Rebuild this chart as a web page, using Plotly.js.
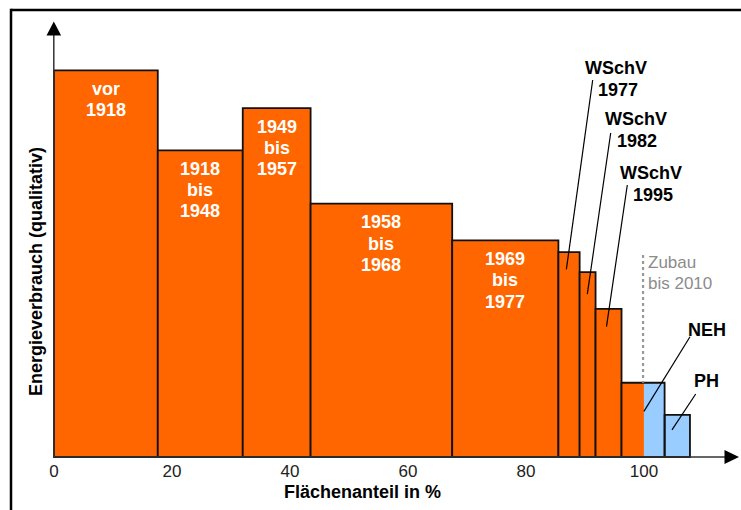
<!DOCTYPE html>
<html>
<head>
<meta charset="utf-8">
<script src="https://cdn.plot.ly/plotly-3.0.1.min.js"></script>
<style>html,body{margin:0;padding:0;background:#fff;}#chart{width:741px;height:510px;}</style>
</head>
<body>
<div id="chart"></div>
<script>
// ---------- DATA ----------
const bestandCategories = ['vor 1918', '1918 bis 1948', '1949 bis 1957', '1958 bis 1968', '1969 bis 1977', 'WSchV 1977', 'WSchV 1982', 'WSchV 1995', 'EnEV'];
const bestandShare = [17.6, 14.4, 11.5, 24.0, 18.0, 3.6, 2.7, 4.4, 3.8];      // Flächenanteil in %
const bestandEnergy = [100, 79.3, 90.2, 65.5, 56.0, 53.0, 47.8, 38.3, 19.2];  // qualitativ
const zubauCategories = ['NEH', 'PH'];
const zubauShare = [3.5, 4.3];
const zubauEnergy = [19.2, 10.9];
const xTickValues = [0, 20, 40, 60, 80, 100];
const xTitle = 'Flächenanteil in %';
const yTitle = 'Energieverbrauch (qualitativ)';
const zubauTitle = ['Zubau', 'bis 2010'];

// ---------- LAYOUT GEOMETRY ----------
const W = 741, H = 510;
const M = {l: 51, r: 0, t: 20, b: 51};
const PX_X = 5.9, PX_Y = 3.867;
const PW = W - M.l - M.r, PH_ = H - M.t - M.b;
const xr = [-0.5, -0.5 + PW / PX_X];
const yr = [-2 / PX_Y, -2 / PX_Y + PH_ / PX_Y];
const px = v => M.l + (v - xr[0]) * PX_X;          // data -> pixel
const py = v => H - M.b - (v - yr[0]) * PX_Y;
const PXp = p => (p - M.l) / PW;                  // pixel -> paper
const PYp = p => (H - M.b - p) / PH_;

const FONT = 'Arial, "Liberation Sans", sans-serif';
const ORANGE = '#FF6600', BLUE = '#99CCFF', EDGE = '#111111';

// cumulative positions
function lefts(widths, start) { const out = []; let s = start; widths.forEach(w => { out.push(s); s += w; }); return out; }
const bLeft = lefts(bestandShare, 0);
const bTotal = bestandShare.reduce((a, b) => a + b, 0);
const zLeft = lefts(zubauShare, bTotal);
const bCenter = bLeft.map((l, i) => l + bestandShare[i] / 2);
const zCenter = zLeft.map((l, i) => l + zubauShare[i] / 2);

const nB = bestandShare.length;
const lineW = bestandShare.map((_, i) => i === nB - 1 ? 0 : 1.8);

const traces = [
  {type: 'bar', x: bCenter, y: bestandEnergy, width: bestandShare, base: 0,
   marker: {color: ORANGE, line: {color: EDGE, width: lineW}}, hoverinfo: 'skip', showlegend: false},
  {type: 'bar', x: zCenter, y: zubauEnergy, width: zubauShare, base: 0,
   marker: {color: BLUE, line: {color: EDGE, width: zubauShare.map((_, i) => i === 0 ? 0 : 1.8)}}, hoverinfo: 'skip', showlegend: false},
  // outline of last Bestand bar + NEH (one joint box)
  {type: 'bar', x: [(bLeft[nB - 1] + zLeft[0] + zubauShare[0]) / 2], y: [bestandEnergy[nB - 1]],
   width: [bestandShare[nB - 1] + zubauShare[0]], base: 0,
   marker: {color: 'rgba(0,0,0,0)', line: {color: EDGE, width: 1.8}}, hoverinfo: 'skip', showlegend: false}
];

const annotations = [];
// white labels in first five bars
for (let i = 0; i < 5; i++) {
  bestandCategories[i].split(' ').forEach((t, k) => {
    annotations.push({x: bCenter[i], y: bestandEnergy[i], xref: 'x', yref: 'y', text: t, showarrow: false,
      yanchor: 'middle', xanchor: 'center', yshift: -(18.5 + k * 21.3),
      font: {family: FONT, size: 18, color: '#ffffff', weight: 'bold'}});
  });
}
// black callout labels (text centre in pixels, leader line start in pixels)
const callouts = [
  {text: bestandCategories[5], cx: 616, cy: 67.7, from: [592.7, 80], to: [bCenter[5] - 0.45, bestandEnergy[5] - 4.5]},
  {text: bestandCategories[6], cx: 635.5, cy: 119, from: [610.7, 133], to: [bCenter[6] - 0.05, bestandEnergy[6] - 5.7]},
  {text: bestandCategories[7], cx: 651, cy: 173, from: [627.3, 185], to: [bCenter[7] - 0.35, bestandEnergy[7] - 4.6]},
  {text: zubauCategories[0], cx: 707, cy: 330, from: [690, 336.7], to: [zLeft[0], zubauEnergy[0] - 7.4]},
  {text: zubauCategories[1], cx: 706.5, cy: 380.7, from: [695.7, 394], to: [zCenter[1] - 0.9, zubauEnergy[1] - 3.9]}
];
const shapes = [];
callouts.forEach(c => {
  c.text.split(' ').forEach((t, k) => {
    annotations.push({x: PXp(c.cx + (k ? 1.5 : 0)), y: PYp(c.cy + k * 22.3), xref: 'paper', yref: 'paper', text: t, showarrow: false,
      xanchor: 'center', yanchor: 'middle', font: {family: FONT, size: 18, color: '#000000', weight: 'bold'}});
  });
  shapes.push({type: 'line', xref: 'paper', yref: 'paper', x0: PXp(c.from[0]), y0: PYp(c.from[1]),
    x1: PXp(px(c.to[0])), y1: PYp(py(c.to[1])), line: {color: '#000', width: 1.2}});
});
// Zubau note
zubauTitle.forEach((t, k) => {
  annotations.push({x: PXp(646), y: PYp(262.7 + k * 20.3), xref: 'paper', yref: 'paper', text: t, showarrow: false,
    xanchor: 'left', yanchor: 'middle', font: {family: FONT, size: 17, color: '#8c8c8c'}});
});
shapes.push({type: 'line', xref: 'x', yref: 'paper', x0: bTotal - 0.15, x1: bTotal - 0.15, y0: PYp(255), y1: PYp(py(zubauEnergy[0])),
  line: {color: '#999999', width: 2.2, dash: 'dot'}});
// axis titles
annotations.push({x: PXp(362), y: PYp(491.7), xref: 'paper', yref: 'paper', text: xTitle, showarrow: false,
  xanchor: 'center', yanchor: 'middle', font: {family: FONT, size: 18, color: '#000', weight: 'bold'}});
annotations.push({x: PXp(36), y: PYp(272), xref: 'paper', yref: 'paper', text: yTitle, showarrow: false, textangle: -90,
  xanchor: 'center', yanchor: 'middle', font: {family: FONT, size: 18, color: '#000', weight: 'bold'}});

// axes with arrows
const AX = '#333333';
shapes.push({type: 'line', xref: 'paper', yref: 'paper', x0: PXp(53.8), x1: PXp(53.8), y0: PYp(457), y1: PYp(34), line: {color: AX, width: 1.5}});
shapes.push({type: 'path', xref: 'paper', yref: 'paper',
  path: `M ${PXp(53.8)},${PYp(21.5)} L ${PXp(46.5)},${PYp(35.5)} L ${PXp(61.1)},${PYp(35.5)} Z`, fillcolor: '#000', line: {width: 0}});
shapes.push({type: 'line', xref: 'paper', yref: 'paper', x0: PXp(53), x1: PXp(726), y0: PYp(457), y1: PYp(457), line: {color: AX, width: 1.5}});
shapes.push({type: 'path', xref: 'paper', yref: 'paper',
  path: `M ${PXp(739)},${PYp(457)} L ${PXp(724.5)},${PYp(450)} L ${PXp(724.5)},${PYp(464)} Z`, fillcolor: '#000', line: {width: 0}});
// frame (top and left edges visible)
shapes.push({type: 'line', xref: 'paper', yref: 'paper', x0: PXp(11), x1: PXp(760), y0: PYp(10), y1: PYp(10), line: {color: '#000', width: 2.5}});
shapes.push({type: 'line', xref: 'paper', yref: 'paper', x0: PXp(11), x1: PXp(11), y0: PYp(8.8), y1: PYp(530), line: {color: '#000', width: 2.5}});

const layout = {
  width: W, height: H, margin: M,
  paper_bgcolor: '#fff', plot_bgcolor: '#fff',
  barmode: 'overlay', showlegend: false,
  xaxis: {range: xr, tickvals: xTickValues, ticks: '', showgrid: false, zeroline: false, showline: false,
    tickfont: {family: FONT, size: 17, color: '#222'}, fixedrange: true},
  yaxis: {range: yr, showticklabels: false, ticks: '', showgrid: false, zeroline: false, showline: false, fixedrange: true},
  shapes: shapes, annotations: annotations
};
Plotly.newPlot('chart', traces, layout, {displayModeBar: false, staticPlot: true});
</script>
</body>
</html>
